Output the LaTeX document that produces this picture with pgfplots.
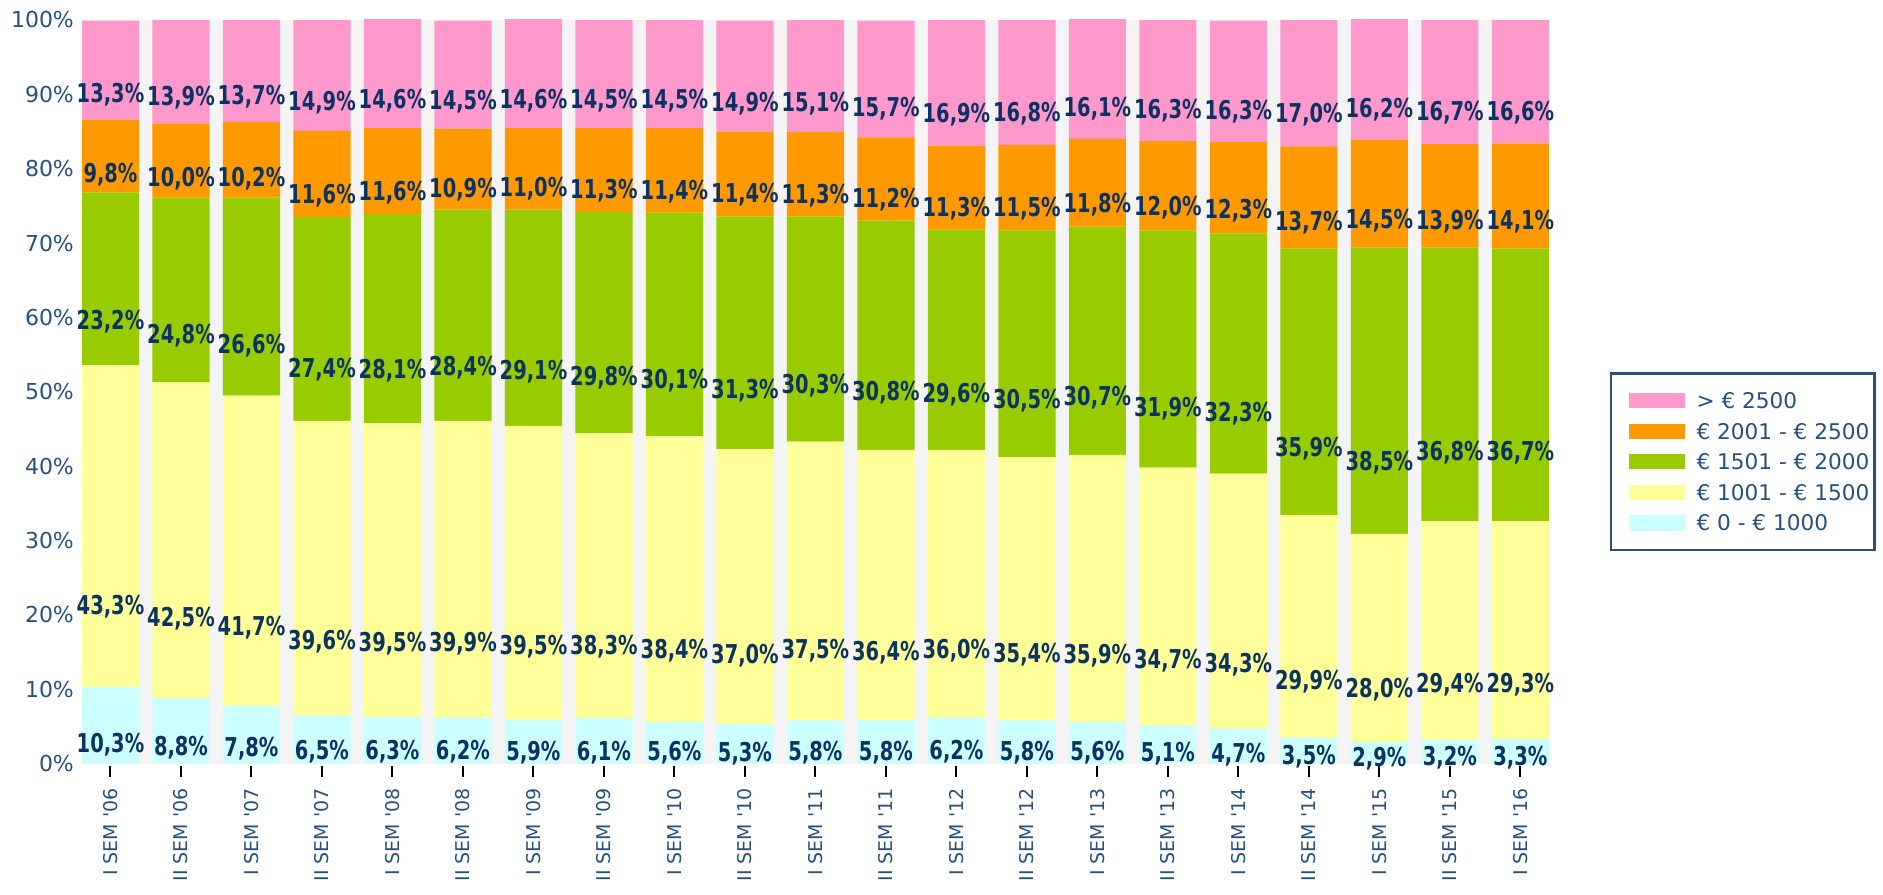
\documentclass[border=0pt]{standalone}
\usepackage{fontspec}
\setmainfont{DejaVu Sans}
\newfontfamily\lblfont{DejaVu Sans}[FakeStretch=0.75]
\usepackage{pgfplots}
\pgfplotsset{compat=1.18}

\definecolor{cPink}{RGB}{255,153,204}
\definecolor{cOrange}{RGB}{255,153,0}
\definecolor{cGreen}{RGB}{153,204,0}
\definecolor{cYellow}{RGB}{255,255,153}
\definecolor{cCyan}{RGB}{204,255,255}
\definecolor{bgGray}{RGB}{244,244,244}
\definecolor{tickBlue}{RGB}{40,80,125}
\definecolor{lblNavy}{RGB}{12,50,98}
\definecolor{legBorder}{RGB}{47,79,117}

\begin{document}
\begin{tikzpicture}
\begin{axis}[
  ybar stacked,
  scale only axis,
  width=440.7pt, height=223.5pt,
  xmin=-0.4, xmax=20.4,
  ymin=0, ymax=100,
  bar width=0.81,
  clip=false,
  axis line style={draw=none},
  axis background/.style={fill=bgGray},
  /pgf/number format/assume math mode=true,
  ytick={0,10,...,100},
  yticklabel={\pgfmathprintnumber{\tick}\%},
  ytick style={draw=none},
  yticklabel style={font=\fontsize{6.6}{7}\selectfont, text=tickBlue, xshift=1pt},
  xtick=data,
  xtick pos=bottom,
  xtick align=outside,
  major tick length=3.3pt,
  xtick style={black, line width=0.6pt, yshift=-0.6pt},
  xticklabels={I SEM \textquotesingle06, II SEM \textquotesingle06, I SEM \textquotesingle07, II SEM \textquotesingle07,
    I SEM \textquotesingle08, II SEM \textquotesingle08, I SEM \textquotesingle09, II SEM \textquotesingle09,
    I SEM \textquotesingle10, II SEM \textquotesingle10, I SEM \textquotesingle11, II SEM \textquotesingle11,
    I SEM \textquotesingle12, II SEM \textquotesingle12, I SEM \textquotesingle13, II SEM \textquotesingle13,
    I SEM \textquotesingle14, II SEM \textquotesingle14, I SEM \textquotesingle15, II SEM \textquotesingle15,
    I SEM \textquotesingle16},
  xticklabel style={rotate=90, anchor=east, font=\fontsize{5.7}{6}\selectfont, text=tickBlue,
    inner ysep=0pt, inner xsep=4pt},
  nodes near coords={\pgfmathprintnumber[fixed, fixed zerofill, precision=1, use comma]{\pgfplotspointmeta}\%},
  visualization depends on=rawy \as \rawy,
  every node near coord/.append style={anchor=center, inner sep=0pt,
    font=\lblfont\bfseries\fontsize{7.8}{8}\selectfont, text=lblNavy,
    yshift={-0.55875pt*\rawy}},
  reverse legend,
  legend cell align=left,
  legend style={at={(1,0.526)}, xshift=18.3pt, anchor=north west,
    draw=legBorder, line width=0.7pt, fill=white,
    font=\fontsize{6.5}{7}\selectfont, text=tickBlue,
    nodes={inner xsep=0.5pt, inner ysep=0pt, text height=4.8pt, text depth=0pt},
    inner xsep=1pt, inner ysep=5.7pt, row sep=4.4pt},
  legend image code/.code={\path (0pt,0pt) (24.3pt,0pt);
    \fill[#1, draw=none] (4.4pt,-2.3pt) rectangle (21.4pt,2.3pt);},
]

% € 0 - € 1000
\addplot[fill=cCyan, draw=none] coordinates {
  (0,10.3) (1,8.8) (2,7.8) (3,6.5) (4,6.3) (5,6.2) (6,5.9) (7,6.1) (8,5.6) (9,5.3)
  (10,5.8) (11,5.8) (12,6.2) (13,5.8) (14,5.6) (15,5.1) (16,4.7) (17,3.5) (18,2.9) (19,3.2) (20,3.3)
};
\addlegendentry{€ 0 - € 1000}

% € 1001 - € 1500
\addplot[fill=cYellow, draw=none] coordinates {
  (0,43.3) (1,42.5) (2,41.7) (3,39.6) (4,39.5) (5,39.9) (6,39.5) (7,38.3) (8,38.4) (9,37.0)
  (10,37.5) (11,36.4) (12,36.0) (13,35.4) (14,35.9) (15,34.7) (16,34.3) (17,29.9) (18,28.0) (19,29.4) (20,29.3)
};
\addlegendentry{€ 1001 - € 1500}

% € 1501 - € 2000
\addplot[fill=cGreen, draw=none] coordinates {
  (0,23.2) (1,24.8) (2,26.6) (3,27.4) (4,28.1) (5,28.4) (6,29.1) (7,29.8) (8,30.1) (9,31.3)
  (10,30.3) (11,30.8) (12,29.6) (13,30.5) (14,30.7) (15,31.9) (16,32.3) (17,35.9) (18,38.5) (19,36.8) (20,36.7)
};
\addlegendentry{€ 1501 - € 2000}

% € 2001 - € 2500
\addplot[fill=cOrange, draw=none] coordinates {
  (0,9.8) (1,10.0) (2,10.2) (3,11.6) (4,11.6) (5,10.9) (6,11.0) (7,11.3) (8,11.4) (9,11.4)
  (10,11.3) (11,11.2) (12,11.3) (13,11.5) (14,11.8) (15,12.0) (16,12.3) (17,13.7) (18,14.5) (19,13.9) (20,14.1)
};
\addlegendentry{€ 2001 - € 2500}

% > € 2500
\addplot[fill=cPink, draw=none] coordinates {
  (0,13.3) (1,13.9) (2,13.7) (3,14.9) (4,14.6) (5,14.5) (6,14.6) (7,14.5) (8,14.5) (9,14.9)
  (10,15.1) (11,15.7) (12,16.9) (13,16.8) (14,16.1) (15,16.3) (16,16.3) (17,17.0) (18,16.2) (19,16.7) (20,16.6)
};
\addlegendentry{> € 2500}

\coordinate (bl) at (rel axis cs:0,0);
\coordinate (tr) at (rel axis cs:1,1);
\end{axis}
\path (bl) ++(-23.7pt,-38.4pt) (tr) ++(100.5pt,6pt);
\end{tikzpicture}
\end{document}
